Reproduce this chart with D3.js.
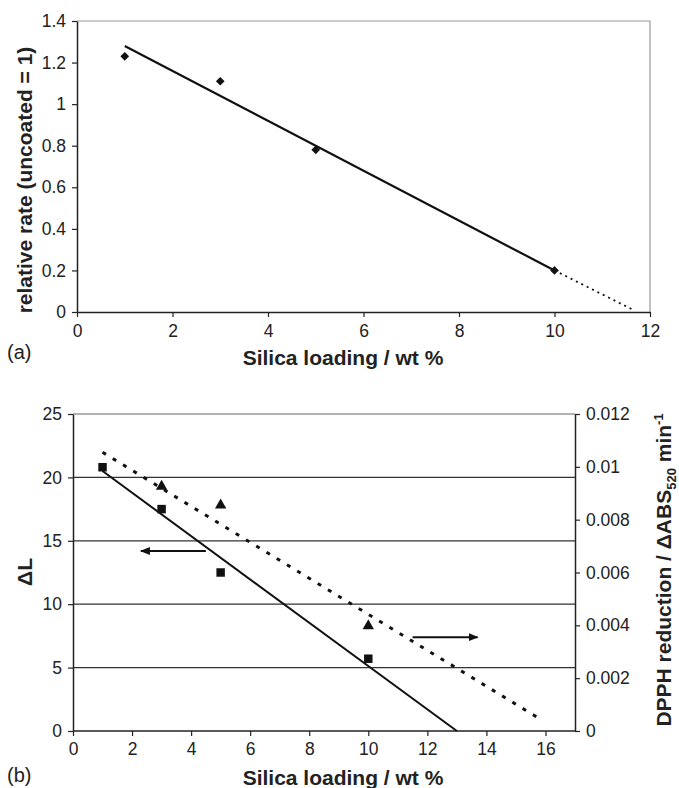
<!DOCTYPE html>
<html>
<head>
<meta charset="utf-8">
<script src="https://cdn.jsdelivr.net/npm/d3@7"></script>
<style>
  html, body { margin: 0; padding: 0; background: #fff; }
  svg { display: block; }
  text { font-family: "Liberation Sans", Arial, sans-serif; fill: #222; }
</style>
</head>
<body>
<svg id="fig" width="679" height="788"></svg>
<script>
// Panel (a): relative rate vs silica loading
const loadingA = [1, 3, 5, 10];
const relRate = [1.23, 1.11, 0.78, 0.20];
const fitA = [[1, 1.28], [10, 0.20]];
const extrapA = [[10, 0.20], [11.65, 0.01]];
const xTicksA = [0, 2, 4, 6, 8, 10, 12];
const yTicksA = [0, 0.2, 0.4, 0.6, 0.8, 1, 1.2, 1.4];

// Panel (b): ΔL (left axis) and DPPH reduction (right axis)
const loadingL = [1, 3, 5, 10];
const deltaL = [20.8, 17.5, 12.5, 5.7];
const loadingD = [3, 5, 10];
const dpph = [0.00926, 0.00855, 0.00398];
const fitL = [[1, 20.5], [13, 0]];
const fitD = [[1, 0.01055], [15.75, 0.0005]];
const xTicksB = [0, 2, 4, 6, 8, 10, 12, 14, 16];
const yTicksL = [0, 5, 10, 15, 20, 25];
const yTicksR = [0, 0.002, 0.004, 0.006, 0.008, 0.01, 0.012];
const arrowLeft = [[4.5, 14.2], [2.3, 14.2]];
const arrowRight = [[11.5, 7.4], [13.7, 7.4]];

const svg = d3.select("#fig");
const defs = svg.append("defs");
defs.append("marker")
  .attr("id", "head").attr("viewBox", "0 0 10 10")
  .attr("refX", 9).attr("refY", 5)
  .attr("markerWidth", 5).attr("markerHeight", 5)
  .attr("markerUnits", "strokeWidth")
  .attr("orient", "auto")
  .append("path").attr("d", "M0,1 L10,5 L0,9 Z").attr("fill", "#111");

const tickFont = 17.5;
const titleFont = 21;

function styleAxis(g) {
  g.selectAll("path.domain").attr("stroke", "#222").attr("stroke-width", 1.5);
  g.selectAll(".tick line").attr("stroke", "#222").attr("stroke-width", 1.2);
  g.selectAll(".tick text").attr("font-size", tickFont)
    .style("font-family", '"Liberation Sans", Arial, sans-serif').attr("fill", "#222");
}

/* ---------- Panel (a) ---------- */
{
  const L = 77, R = 650, T = 21, B = 312;
  const x = d3.scaleLinear().domain([0, 12]).range([L, R]);
  const y = d3.scaleLinear().domain([0, 1.4]).range([B, T]);
  const g = svg.append("g");

  // frame: top and right in light grey
  g.append("path")
    .attr("d", `M${L},${T}H${R}V${B}`)
    .attr("fill", "none").attr("stroke", "#999").attr("stroke-width", 1.2);

  const xa = g.append("g").attr("transform", `translate(0,${B})`)
    .call(d3.axisBottom(x).tickValues(xTicksA).tickSize(5).tickSizeOuter(0).tickPadding(8).tickFormat(d3.format("d")));
  styleAxis(xa);
  const ya = g.append("g").attr("transform", `translate(${L},0)`)
    .call(d3.axisLeft(y).tickValues(yTicksA).tickSize(5).tickSizeOuter(0).tickPadding(6).tickFormat(d => d3.format("")(+d.toFixed(1))));
  styleAxis(ya);

  const line = d3.line().x(d => x(d[0])).y(d => y(d[1]));
  g.append("path").attr("d", line(fitA)).attr("fill", "none")
    .attr("stroke", "#111").attr("stroke-width", 2.2);
  g.append("path").attr("d", line(extrapA)).attr("fill", "none")
    .attr("stroke", "#111").attr("stroke-width", 1.8).attr("stroke-dasharray", "2,4");

  g.selectAll("path.pt").data(loadingA).join("path").attr("class", "pt")
    .attr("transform", (d, i) => `translate(${x(d)},${y(relRate[i])})`)
    .attr("d", d3.symbol(d3.symbolDiamond2, 48)).attr("fill", "#111");

  g.append("text").attr("transform", `translate(32,180) rotate(-90)`)
    .attr("text-anchor", "middle").attr("font-size", titleFont).attr("font-weight", "bold")
    .text("relative rate (uncoated = 1)");
  g.append("text").attr("x", 343).attr("y", 365).attr("text-anchor", "middle")
    .attr("font-size", titleFont).attr("font-weight", "bold").text("Silica loading / wt %");
  g.append("text").attr("x", 7).attr("y", 359).attr("font-size", 20).text("(a)");
}

/* ---------- Panel (b) ---------- */
{
  const L = 73, R = 575, T = 414, B = 731;
  const x = d3.scaleLinear().domain([0, 17]).range([L, R]);
  const yL = d3.scaleLinear().domain([0, 25]).range([B, T]);
  const yR = d3.scaleLinear().domain([0, 0.012]).range([B, T]);
  const g = svg.append("g");

  // horizontal gridlines
  g.selectAll("line.grid").data(yTicksL.filter(v => v > 0)).join("line").attr("class", "grid")
    .attr("x1", L).attr("x2", R).attr("y1", d => yL(d)).attr("y2", d => yL(d))
    .attr("stroke", d => d === 25 ? "#999" : "#333").attr("stroke-width", 1.3);

  const xa = g.append("g").attr("transform", `translate(0,${B})`)
    .call(d3.axisBottom(x).tickValues(xTicksB).tickSize(5).tickSizeOuter(0).tickPadding(7).tickFormat(d3.format("d")));
  styleAxis(xa);
  xa.select("path.domain").attr("d", `M${L},0H${R}`);
  const ya = g.append("g").attr("transform", `translate(${L},0)`)
    .call(d3.axisLeft(yL).tickValues(yTicksL).tickSize(5).tickSizeOuter(0).tickPadding(6).tickFormat(d3.format("d")));
  styleAxis(ya);
  const yb = g.append("g").attr("transform", `translate(${R},0)`)
    .call(d3.axisRight(yR).tickValues(yTicksR).tickSize(5).tickSizeOuter(0).tickPadding(6)
      .tickFormat(d => d === 0 ? "0" : String(+d.toFixed(3))));
  styleAxis(yb);

  const lineL = d3.line().x(d => x(d[0])).y(d => yL(d[1]));
  const lineR = d3.line().x(d => x(d[0])).y(d => yR(d[1]));
  g.append("path").attr("d", lineL(fitL)).attr("fill", "none")
    .attr("stroke", "#111").attr("stroke-width", 2);
  g.append("path").attr("d", lineR(fitD)).attr("fill", "none")
    .attr("stroke", "#111").attr("stroke-width", 3).attr("stroke-dasharray", "4,8");

  g.selectAll("path.sq").data(loadingL).join("path").attr("class", "sq")
    .attr("transform", (d, i) => `translate(${x(d)},${yL(deltaL[i])})`)
    .attr("d", d3.symbol(d3.symbolSquare, 72)).attr("fill", "#111");
  g.selectAll("path.tri").data(loadingD).join("path").attr("class", "tri")
    .attr("transform", (d, i) => `translate(${x(d)},${yR(dpph[i])})`)
    .attr("d", d3.symbol(d3.symbolTriangle, 56)).attr("fill", "#111");

  // arrows pointing to each series' axis
  [arrowLeft, arrowRight].forEach(a => {
    g.append("path").attr("d", lineL(a)).attr("fill", "none")
      .attr("stroke", "#111").attr("stroke-width", 2).attr("marker-end", "url(#head)");
  });

  g.append("text").attr("transform", `translate(32,572) rotate(-90)`)
    .attr("text-anchor", "middle").attr("font-size", titleFont).attr("font-weight", "bold")
    .text("ΔL");
  const rl = g.append("text").attr("transform", `translate(671,570) rotate(-90)`)
    .attr("text-anchor", "middle").attr("font-size", titleFont).attr("font-weight", "bold");
  rl.append("tspan").text("DPPH reduction / ΔABS");
  rl.append("tspan").attr("font-size", 13).attr("dy", 5).text("520");
  rl.append("tspan").attr("dy", -5).text(" min");
  rl.append("tspan").attr("font-size", 13).attr("dy", -8).text("-1");
  g.append("text").attr("x", 343).attr("y", 785).attr("text-anchor", "middle")
    .attr("font-size", titleFont).attr("font-weight", "bold").text("Silica loading / wt %");
  g.append("text").attr("x", 7).attr("y", 782).attr("font-size", 20).text("(b)");
}
</script>
</body>
</html>
